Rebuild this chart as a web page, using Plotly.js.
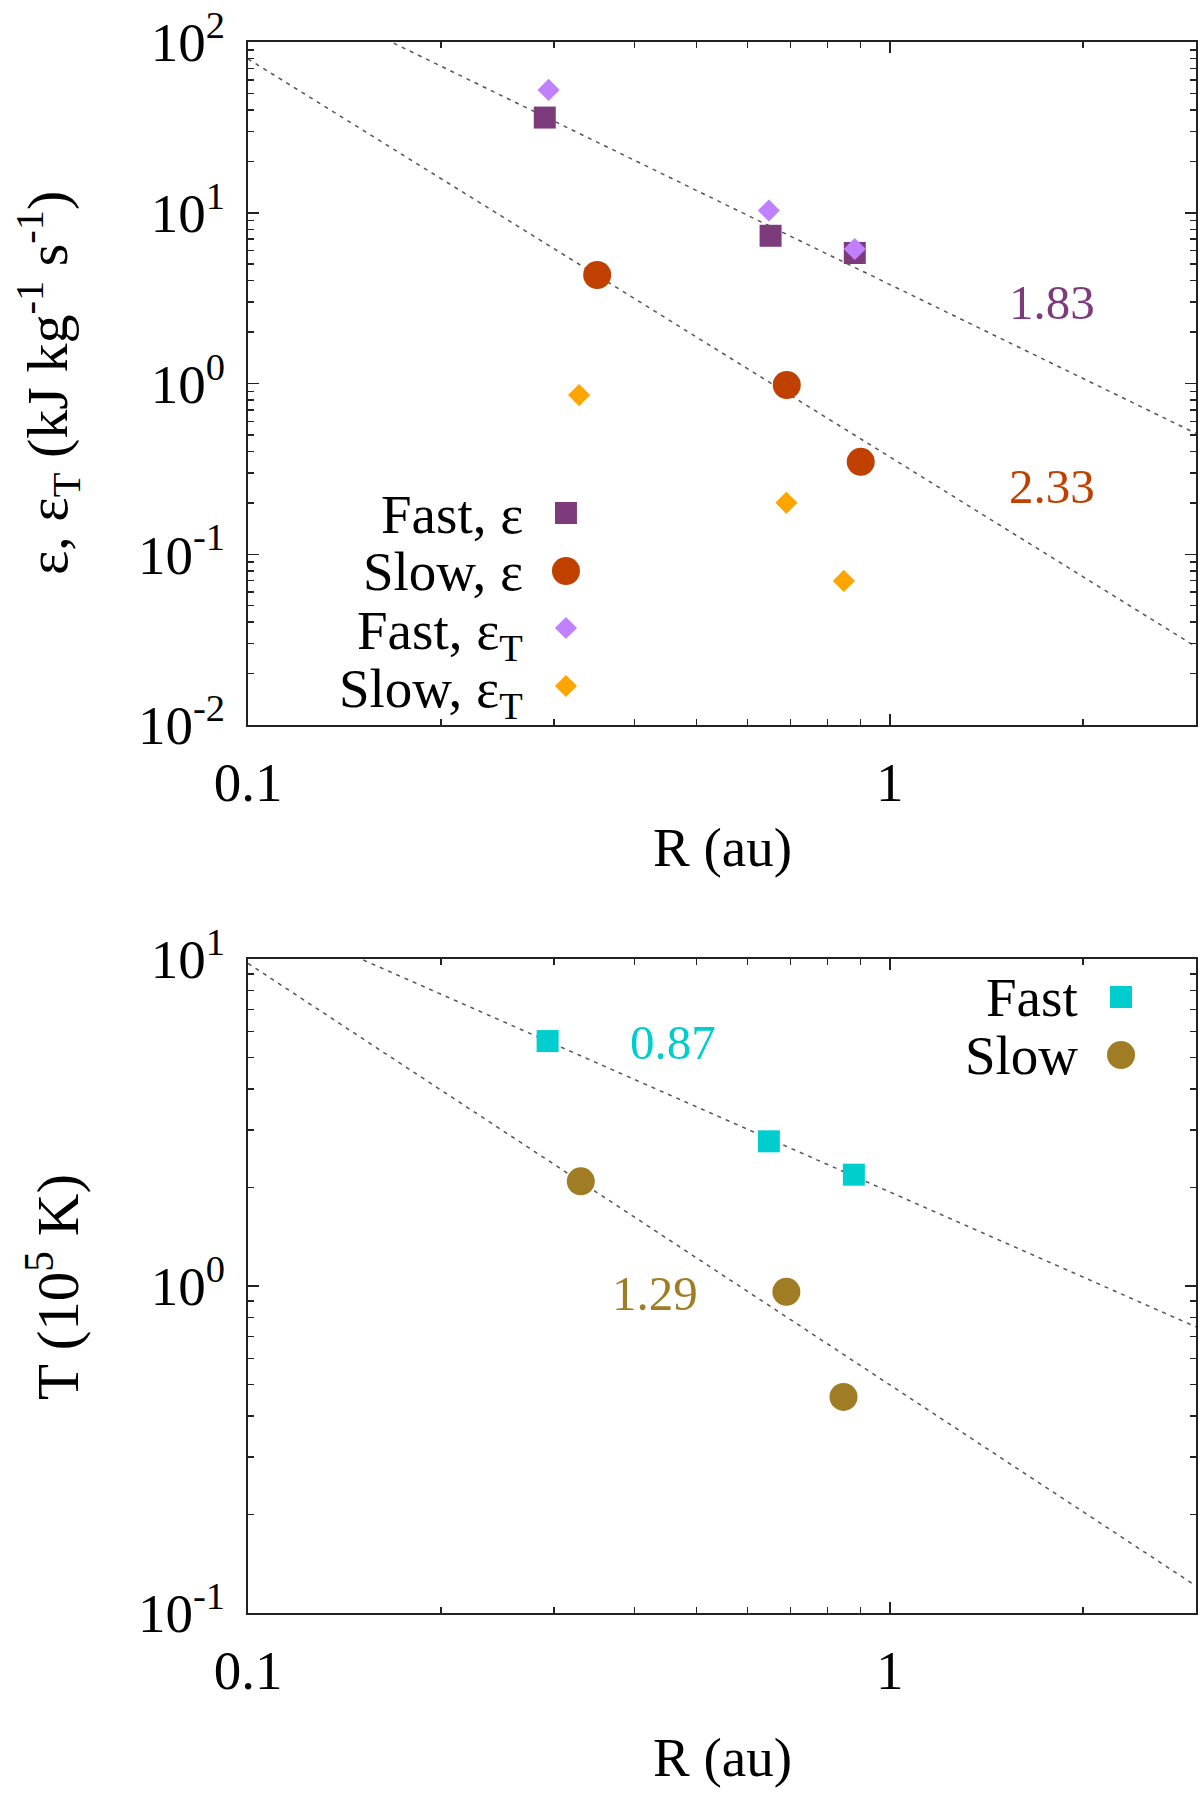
<!DOCTYPE html>
<html>
<head>
<meta charset="utf-8">
<script src="https://cdn.plot.ly/plotly-3.0.1.min.js"></script>
<style>
  html, body { margin: 0; padding: 0; background: #fff; }
  #chart { width: 1200px; height: 1795px; }
</style>
</head>
<body>
<div id="chart"></div>
<script>
// top panel: heating rates (kJ kg^-1 s^-1) vs R (au)
const fastEpsR = [0.290, 0.652, 0.882];
const fastEps = [36.1, 7.33, 5.81];
const slowEpsR = [0.350, 0.691, 0.901];
const slowEps = [4.32, 0.98, 0.348];
const fastEpsTR = [0.294, 0.648, 0.882];
const fastEpsT = [52.4, 10.3, 6.13];
const slowEpsTR = [0.328, 0.690, 0.848];
const slowEpsT = [0.855, 0.200, 0.0698];

// bottom panel: temperature (1e5 K) vs R (au)
const fastTR = [0.293, 0.648, 0.879];
const fastT = [5.61, 2.77, 2.19];
const slowTR = [0.330, 0.690, 0.847];
const slowT = [2.09, 0.96, 0.458];

// power-law fits, end points at the edges of the R range
const fitR = [0.1, 3];
const fastEpsFit = [256, 0.51];
const slowEpsFit = [79.6, 0.0287];
const fastTFit = [14.2, 0.75];
const slowTFit = [9.7, 0.121];

// fitted slopes written on the panels
const epsSlopeText = ["1.83", "2.33"];
const epsSlopeR = [1.79, 1.79];
const epsSlopeY = [2.98, 0.25];
const tSlopeText = ["0.87", "1.29"];
const tSlopeR = [0.46, 0.431];
const tSlopeY = [5.57, 0.946];

const topLegendText = ["Fast, ε", "Slow, ε", "Fast, ε<sub>T</sub>", "Slow, ε<sub>T</sub>"];
const bottomLegendText = ["Fast", "Slow"];

const xTickVals = [0.1, 1];
const xTickText = ["0.1", "1"];
const xMinorVals = [0.2, 0.3, 0.4, 0.5, 0.6, 0.7, 0.8, 0.9, 2, 3];
const topYTickVals = [0.01, 0.1, 1, 10, 100];
const topYTickText = ["10<sup>-2</sup>", "10<sup>-1</sup>", "10<sup>0</sup>", "10<sup>1</sup>", "10<sup>2</sup>"];
const bottomYTickVals = [0.1, 1, 10];
const bottomYTickText = ["10<sup>-1</sup>", "10<sup>0</sup>", "10<sup>1</sup>"];

const C_FAST_EPS = "#7e3b7b";
const C_SLOW_EPS = "#c04000";
const C_FAST_EPST = "#c080ff";
const C_SLOW_EPST = "#ffa500";
const C_FAST_T = "#00cdcd";
const C_SLOW_T = "#a07d24";

const FONT = "Liberation Serif, Times New Roman, serif";
const W = 1200;
const H = 1795;

const minorBetween = (lo, hi) => {
  const out = [];
  for (let d = lo; d < hi; d *= 10) {
    for (let m = 2; m <= 9; m++) out.push(d * m);
  }
  return out;
};

const markerTrace = (x, y, color, symbol, size, xa, ya) => ({
  x, y,
  xaxis: xa, yaxis: ya,
  type: "scatter",
  mode: "markers",
  marker: { color, symbol, size, line: { width: 0 } },
  hoverinfo: "skip",
  showlegend: false,
  cliponaxis: false
});

const fitTrace = (y, xa, ya) => ({
  x: fitR, y,
  xaxis: xa, yaxis: ya,
  type: "scatter",
  mode: "lines",
  line: { color: "#555", width: 1.5, dash: "4px,5px" },
  hoverinfo: "skip",
  showlegend: false
});

// legend keys sit on hidden overlay axes spanning each panel (0..1)
const topKeyX = 0.3354;
const topKeyY = [0.3104, 0.2255, 0.1420, 0.0571];
const bottomKeyX = 0.9209;
const bottomKeyY = [0.9419, 0.8532];

const data = [
  fitTrace(fastEpsFit, "x", "y"),
  fitTrace(slowEpsFit, "x", "y"),
  markerTrace(fastEpsR, fastEps, C_FAST_EPS, "square", 22, "x", "y"),
  markerTrace(fastEpsTR, fastEpsT, C_FAST_EPST, "diamond", 17, "x", "y"),
  markerTrace(slowEpsR, slowEps, C_SLOW_EPS, "circle", 28, "x", "y"),
  markerTrace(slowEpsTR, slowEpsT, C_SLOW_EPST, "diamond", 17, "x", "y"),

  fitTrace(fastTFit, "x2", "y2"),
  fitTrace(slowTFit, "x2", "y2"),
  markerTrace(fastTR, fastT, C_FAST_T, "square", 22, "x2", "y2"),
  markerTrace(slowTR, slowT, C_SLOW_T, "circle", 28, "x2", "y2"),

  markerTrace([topKeyX], [topKeyY[0]], C_FAST_EPS, "square", 22, "x3", "y3"),
  markerTrace([topKeyX], [topKeyY[1]], C_SLOW_EPS, "circle", 28, "x3", "y3"),
  markerTrace([topKeyX], [topKeyY[2]], C_FAST_EPST, "diamond", 17, "x3", "y3"),
  markerTrace([topKeyX], [topKeyY[3]], C_SLOW_EPST, "diamond", 17, "x3", "y3"),
  markerTrace([bottomKeyX], [bottomKeyY[0]], C_FAST_T, "square", 22, "x4", "y4"),
  markerTrace([bottomKeyX], [bottomKeyY[1]], C_SLOW_T, "circle", 28, "x4", "y4")
];

const topDomainY = [(H - 725) / H, (H - 42) / H];
const bottomDomainY = [(H - 1613) / H, (H - 959) / H];
const domainX = [248 / W, 1196 / W];

const logX = (anchor) => ({
  type: "log",
  domain: domainX,
  anchor,
  range: [-1, Math.log10(3)],
  tickmode: "array",
  tickvals: xTickVals,
  ticktext: xTickText,
  ticks: "inside",
  ticklen: 11,
  tickwidth: 1.5,
  tickcolor: "#222",
  minor: { tickmode: "array", tickvals: xMinorVals, ticks: "inside", ticklen: 6, tickwidth: 1.5, tickcolor: "#222" },
  showline: true,
  linecolor: "#222",
  linewidth: 2,
  mirror: "allticks",
  showgrid: false,
  zeroline: false,
  ticklabelstandoff: 8,
  tickfont: { family: FONT, size: 55, color: "#000" }
});

const logY = (anchor, domain, vals, text, lo, hi) => ({
  type: "log",
  domain,
  anchor,
  range: [Math.log10(lo), Math.log10(hi)],
  tickmode: "array",
  tickvals: vals,
  ticktext: text,
  ticks: "inside",
  ticklen: 11,
  tickwidth: 1.5,
  tickcolor: "#222",
  minor: { tickmode: "array", tickvals: minorBetween(lo, hi), ticks: "inside", ticklen: 6, tickwidth: 1.5, tickcolor: "#222" },
  showline: true,
  linecolor: "#222",
  linewidth: 2,
  mirror: "allticks",
  showgrid: false,
  zeroline: false,
  ticklabelstandoff: 10,
  tickfont: { family: FONT, size: 55, color: "#000" }
});

const hiddenAxis = (overlay) => ({
  overlaying: overlay,
  range: [0, 1],
  visible: false,
  showgrid: false,
  zeroline: false,
  fixedrange: true
});

const annotations = [];
const textNote = (text, x, y, xref, yref, extra) => Object.assign({
  text, x, y, xref, yref,
  showarrow: false,
  font: { family: FONT, size: 55, color: "#000" }
}, extra);

// slope labels
epsSlopeText.forEach((t, i) => {
  annotations.push(textNote(t, Math.log10(epsSlopeR[i]), Math.log10(epsSlopeY[i]), "x", "y",
    { font: { family: FONT, size: 49, color: i === 0 ? C_FAST_EPS : C_SLOW_EPS } }));
});
tSlopeText.forEach((t, i) => {
  annotations.push(textNote(t, Math.log10(tSlopeR[i]), Math.log10(tSlopeY[i]), "x2", "y2",
    { font: { family: FONT, size: 49, color: i === 0 ? C_FAST_T : C_SLOW_T } }));
});

// legend labels, right-aligned left of the keys
const topLegendPaperY = [514, 571, 628, 686].map((p) => 1 - p / H);
topLegendText.forEach((t, i) => {
  annotations.push(textNote(t, 525 / W, topLegendPaperY[i], "paper", "paper",
    { xanchor: "right", yanchor: i > 1 ? "top" : "middle", yshift: i > 1 ? 30 : 0 }));
});
const bottomLegendPaperY = [997, 1055].map((p) => 1 - p / H);
bottomLegendText.forEach((t, i) => {
  annotations.push(textNote(t, 1080 / W, bottomLegendPaperY[i], "paper", "paper",
    { xanchor: "right", yanchor: "middle" }));
});

// axis titles
annotations.push(textNote("ε, ε<sub>T</sub> (kJ kg<sup>-1</sup> s<sup>-1</sup>)", 48 / W, 1 - 383 / H, "paper", "paper",
  { textangle: -90, xanchor: "center", yanchor: "middle", font: { family: FONT, size: 58, color: "#000" } }));
annotations.push(textNote("T (10<sup>5</sup> K)", 53 / W, 1 - 1287 / H, "paper", "paper",
  { textangle: -90, xanchor: "center", yanchor: "middle", font: { family: FONT, size: 59, color: "#000" } }));
annotations.push(textNote("R (au)", 722 / W, 1 - 847 / H, "paper", "paper",
  { xanchor: "center", yanchor: "middle" }));
annotations.push(textNote("R (au)", 722 / W, 1 - 1757 / H, "paper", "paper",
  { xanchor: "center", yanchor: "middle" }));

const layout = {
  width: W,
  height: H,
  margin: { l: 0, r: 0, t: 0, b: 0 },
  paper_bgcolor: "#fff",
  plot_bgcolor: "rgba(0,0,0,0)",
  showlegend: false,
  xaxis: logX("y"),
  yaxis: logY("x", topDomainY, topYTickVals, topYTickText, 0.01, 100),
  xaxis2: logX("y2"),
  yaxis2: logY("x2", bottomDomainY, bottomYTickVals, bottomYTickText, 0.1, 10),
  xaxis3: Object.assign(hiddenAxis("x"), { anchor: "y3" }),
  yaxis3: Object.assign(hiddenAxis("y"), { anchor: "x3" }),
  xaxis4: Object.assign(hiddenAxis("x2"), { anchor: "y4" }),
  yaxis4: Object.assign(hiddenAxis("y2"), { anchor: "x4" }),
  annotations
};

Plotly.newPlot("chart", data, layout, { displayModeBar: false, staticPlot: true });
</script>
</body>
</html>
